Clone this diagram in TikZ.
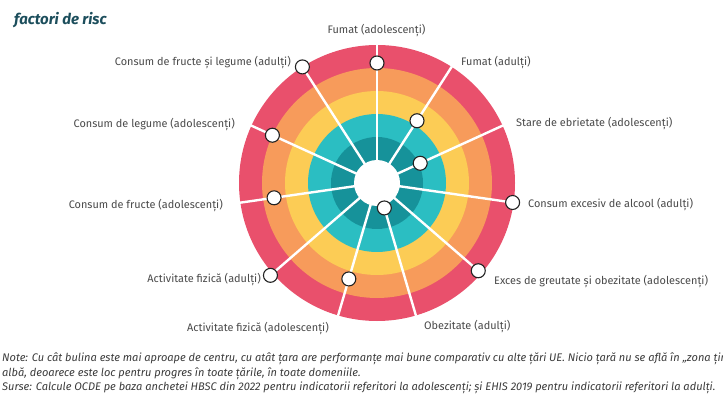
\documentclass[tikz,border=0pt]{standalone}
\usepackage{fontspec}
\setmainfont{Fira Sans}
\begin{document}
\begin{tikzpicture}[x=1pt,y=1pt,
  lbl/.style={font=\fontsize{10.9}{12}\selectfont, text=txtgray, inner sep=0pt},
  marker/.style={circle, draw=mkline, line width=1.1pt, fill=white, minimum size=14pt, inner sep=0pt},
  spoke/.style={draw=white, line width=2.4pt},
  note/.style={font=\fontsize{11.05}{12}\selectfont\itshape, text=notegray, inner sep=0pt, anchor=base west}
]
\definecolor{ringred}{HTML}{E9506C}
\definecolor{ringorange}{HTML}{F79B5B}
\definecolor{ringyellow}{HTML}{FCCC55}
\definecolor{ringteal}{HTML}{2BBEC2}
\definecolor{ringdark}{HTML}{16929A}
\definecolor{txtgray}{HTML}{4A4A4A}
\definecolor{notegray}{HTML}{3C3C3C}
\definecolor{mkline}{HTML}{222222}
\definecolor{titlecol}{HTML}{1C4E5C}
\useasboundingbox[fill=white] (0,0) rectangle (723,394);
% title
\node[anchor=base west, inner sep=0pt, text=titlecol, font=\fontsize{15}{17}\selectfont\bfseries\itshape] (title) at (14,369) {factori de risc};
% rings
\begin{scope}[shift={(377,211)}]
  \fill[ringred] (0,0) circle (138);
  \fill[ringorange] (0,0) circle (115);
  \fill[ringyellow] (0,0) circle (92);
  \fill[ringteal] (0,0) circle (69);
  \fill[ringdark] (0,0) circle (46);
  \node[circle, fill=white, minimum size=46pt, inner sep=0pt] (ctr) at (0,0) {};
  \foreach \k in {0,...,10} {
    \draw[spoke] ({90-\k*360/11}:22) -- ({90-\k*360/11}:138.5);
  }
  \node[marker] (m0) at (90:120) {};
  \node[marker] (m1) at ({90-1*360/11}:74) {};
  \node[marker] (m2) at ({90-2*360/11}:47.5) {};
  \node[marker] (m3) at ({90-3*360/11}:137) {};
  \node[marker] (m4) at ({90-4*360/11}:134) {};
  \node[marker] (m5) at ({90-5*360/11}:26) {};
  \node[marker] (m6) at ({90-6*360/11}:100) {};
  \node[marker] (m7) at ({90-7*360/11}:141) {};
  \node[marker] (m8) at ({90-8*360/11}:104) {};
  \node[marker] (m9) at ({90-9*360/11}:115) {};
  \node[marker] (m10) at ({90-10*360/11}:138) {};
\end{scope}
% labels
\node[lbl, anchor=center] (l0) at (376.5,363) {Fumat (adolescenți)};
\node[lbl, anchor=west] (l1) at (461,331) {Fumat (adulți)};
\node[lbl, anchor=west] (l2) at (516,270) {Stare de ebrietate (adolescenți)};
\node[lbl, anchor=west] (l3) at (528,189) {Consum excesiv de alcool (adulți)};
\node[lbl, anchor=west] (l4) at (494,112.5) {Exces de greutate și obezitate (adolescenți)};
\node[lbl, anchor=west] (l5) at (424,67.5) {Obezitate (adulți)};
\node[lbl, anchor=east] (l6) at (329,65) {Activitate fizică (adolescenți)};
\node[lbl, anchor=east] (l7) at (261,114.5) {Activitate fizică (adulți)};
\node[lbl, anchor=east] (l8) at (223,188.5) {Consum de fructe (adolescenți)};
\node[lbl, anchor=east] (l9) at (235,269) {Consum de legume (adolescenți)};
\node[lbl, anchor=east] (l10) at (291,331) {Consum de fructe și legume (adulți)};
% notes
\node[note] (n1) at (2,32.5) {Note: Cu cât bulina este mai aproape de centru, cu atât țara are performanțe mai bune comparativ cu alte țări UE. Nicio țară nu se află în „zona țintă”};
\node[note] (n2) at (2,18) {albă, deoarece este loc pentru progres în toate țările, în toate domeniile.};
\node[note] (n3) at (2,3.5) {Surse: Calcule OCDE pe baza anchetei HBSC din 2022 pentru indicatorii referitori la adolescenți; și EHIS 2019 pentru indicatorii referitori la adulți.};
\end{tikzpicture}
\end{document}
